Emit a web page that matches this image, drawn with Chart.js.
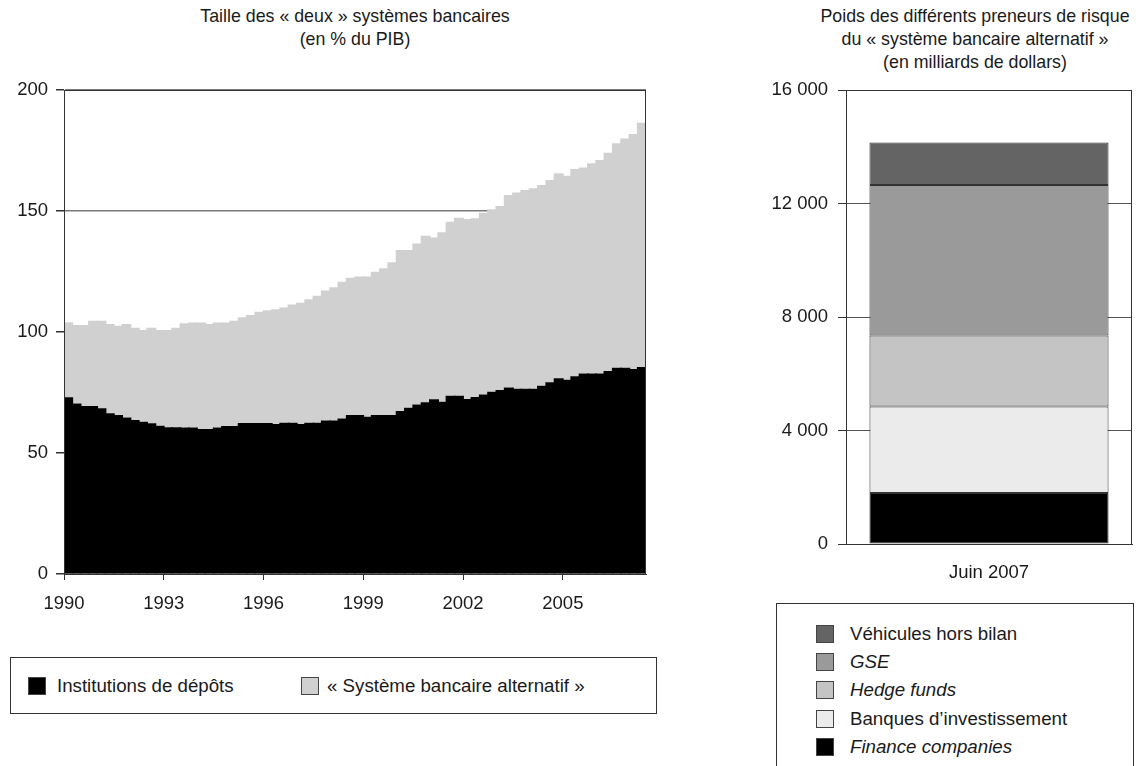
<!DOCTYPE html>
<html lang="fr">
<head>
<meta charset="utf-8">
<title>Système bancaire alternatif</title>
<script src="https://cdn.jsdelivr.net/npm/chart.js@4.4.1/dist/chart.umd.min.js"></script>
<style>
  html, body { margin: 0; padding: 0; background: #fff; }
  body { width: 1147px; height: 766px; position: relative; overflow: hidden;
         font-family: "Liberation Sans", Arial, Helvetica, sans-serif; color: #1a1a1a; }
  .title { position: absolute; width: 460px; text-align: center; font-size: 17.8px; line-height: 23px; }
  canvas { position: absolute; }
  .legend { position: absolute; border: 1px solid #333; box-sizing: border-box; font-size: 18.7px; }
  .item { position: absolute; display: flex; align-items: center; white-space: nowrap; height: 18px; }
  .sw { width: 18px; height: 18px; box-sizing: border-box; border: 1px solid #444; flex: none; }
  .it { font-style: italic; }
</style>
</head>
<body>

<div class="title" style="left:125px; top:5px;">Taille des « deux » systèmes bancaires<br>(en % du PIB)</div>
<div class="title" style="left:745px; top:5px;">Poids des différents preneurs de risque<br>du « système bancaire alternatif »<br>(en milliards de dollars)</div>

<canvas id="taille" width="660" height="630" style="left:0; top:0; width:660px; height:630px;"></canvas>
<canvas id="poids" width="447" height="600" style="left:700px; top:0; width:447px; height:600px;"></canvas>

<div class="legend" style="left:10px; top:657px; width:647px; height:57px;">
  <div class="item" style="left:17px; top:19px;"><span class="sw" style="background:#000; margin-right:11px;"></span>Institutions de dépôts</div>
  <div class="item" style="left:290px; top:19px;"><span class="sw" style="background:#d0d0d0; margin-right:8px;"></span>« Système bancaire alternatif »</div>
</div>

<div class="legend" style="left:776px; top:603px; width:358px; height:180px;">
  <div class="item" style="left:39px; top:21px;"><span class="sw" style="background:#646464; margin-right:16px;"></span>Véhicules hors bilan</div>
  <div class="item" style="left:39px; top:49px;"><span class="sw" style="background:#9a9a9a; margin-right:16px;"></span><span class="it">GSE</span></div>
  <div class="item" style="left:39px; top:77px;"><span class="sw" style="background:#c4c4c4; margin-right:16px;"></span><span class="it">Hedge funds</span></div>
  <div class="item" style="left:39px; top:106px;"><span class="sw" style="background:#ebebeb; margin-right:16px;"></span>Banques d’investissement</div>
  <div class="item" style="left:39px; top:134px;"><span class="sw" style="background:#000; margin-right:16px;"></span><span class="it">Finance companies</span></div>
</div>

<script>
// ---- Taille des deux systèmes bancaires, en % du PIB (trimestriel, 1990 T1 – 2007 T2)
const firstYear = 1990;
const quarters = [];
for (let y = 1990; y <= 2007; y++) {
  for (let q = 1; q <= 4; q++) {
    if (y === 2007 && q > 2) break;
    quarters.push(y + ' T' + q);
  }
}

const institutionsDepots = [
  73.0, 70.5, 69.4, 69.4, 68.5, 66.4, 65.7, 64.7, 63.6, 62.9,
  62.3, 61.3, 60.6, 60.6, 60.5, 60.5, 59.9, 59.9, 60.5, 61.2,
  61.2, 62.4, 62.4, 62.4, 62.4, 62.0, 62.5, 62.5, 62.0, 62.5,
  62.5, 63.4, 63.4, 64.3, 65.7, 65.7, 65.0, 65.7, 65.7, 65.7,
  67.4, 68.7, 70.0, 71.0, 72.2, 71.2, 73.7, 73.7, 72.3, 73.1,
  74.2, 75.3, 76.0, 77.1, 76.6, 76.6, 76.6, 77.8, 79.2, 80.9,
  80.3, 81.7, 82.9, 82.9, 82.9, 83.9, 85.2, 85.2, 84.7, 85.5
];

const systemeAlternatif = [
  31.0, 32.4, 33.5, 35.3, 36.2, 36.9, 36.9, 38.6, 38.2, 37.9,
  39.5, 39.5, 40.2, 41.2, 43.1, 43.4, 44.0, 43.4, 43.4, 42.7,
  43.5, 43.7, 44.6, 46.0, 46.6, 47.4, 47.6, 48.9, 50.1, 51.0,
  52.5, 53.7, 55.1, 56.5, 56.7, 57.2, 57.9, 59.2, 60.6, 63.1,
  66.5, 65.2, 66.6, 68.8, 66.9, 70.0, 71.9, 73.5, 74.4, 73.9,
  75.1, 75.4, 76.1, 79.5, 81.0, 82.1, 82.8, 82.9, 83.6, 84.7,
  84.3, 85.7, 85.1, 86.8, 88.2, 90.2, 92.8, 94.8, 97.1, 101.0
];

const tailleTicks = [0, 50, 100, 150, 200];
const anneeTicks = [1990, 1993, 1996, 1999, 2002, 2005];

// ---- Poids des preneurs de risque, en milliards de dollars
const periode = ['Juin 2007'];
const financeCompanies = [1800];
const banquesInvestissement = [3050];
const hedgeFunds = [2500];
const gse = [5300];
const vehiculesHorsBilan = [1500];
const poidsTicks = [0, 4000, 8000, 12000, 16000];

// ---------------------------------------------------------------
const FONT = '"Liberation Sans", Arial, Helvetica, sans-serif';
const INK = '#1a1a1a';
const TICK_FONT = { size: 18.5 };
Chart.defaults.font.family = FONT;
Chart.defaults.color = INK;

// centre of each quarter on a decimal-year axis
const quarterCentre = i => firstYear + i / 4 + 0.125;

// plot-area frame drawn above the bars
const framePlugin = {
  id: 'frame',
  afterDatasetsDraw(chart) {
    const { ctx, chartArea: a } = chart;
    ctx.save();
    ctx.strokeStyle = '#333';
    ctx.lineWidth = 1;
    ctx.strokeRect(Math.round(a.left) + 0.5, Math.round(a.top) + 0.5,
                   Math.round(a.right) - Math.round(a.left) - 1,
                   Math.round(a.bottom) - Math.round(a.top));
    ctx.restore();
  }
};

const withSpaces = v => String(v).replace(/\B(?=(\d{3})+(?!\d))/g, ' ');

new Chart(document.getElementById('taille'), {
  type: 'bar',
  data: {
    datasets: [
      {
        label: 'Institutions de dépôts',
        data: institutionsDepots.map((v, i) => ({ x: quarterCentre(i), y: v })),
        backgroundColor: '#000',
        borderWidth: 0
      },
      {
        label: '« Système bancaire alternatif »',
        data: systemeAlternatif.map((v, i) => ({ x: quarterCentre(i), y: v })),
        backgroundColor: '#d0d0d0',
        borderWidth: 0
      }
    ]
  },
  options: {
    responsive: false,
    animation: false,
    devicePixelRatio: 1,
    categoryPercentage: 1,
    // slight overlap so neighbouring quarters fuse into one solid area
    barPercentage: 1.2,
    layout: { padding: { top: 90, right: 14, left: 0, bottom: 0 } },
    plugins: { legend: { display: false }, tooltip: { enabled: false } },
    scales: {
      x: {
        type: 'linear',
        stacked: true,
        min: firstYear,
        max: firstYear + quarters.length / 4,
        offset: false,
        afterBuildTicks: s => { s.ticks = anneeTicks.map(v => ({ value: v })); },
        ticks: { autoSkip: false, maxRotation: 0, padding: 13, color: INK,
                 font: TICK_FONT, callback: v => String(v) },
        grid: { drawOnChartArea: false, offset: false, tickLength: 6, tickColor: '#333' },
        border: { display: true, color: '#333' },
        afterFit: s => { s.height = 56; }
      },
      y: {
        stacked: true,
        min: 0,
        max: 200,
        afterBuildTicks: s => { s.ticks = tailleTicks.map(v => ({ value: v })); },
        ticks: { padding: 8, color: INK, font: TICK_FONT },
        grid: { color: '#7a7a7a', lineWidth: 1.5, tickLength: 8, tickColor: '#333' },
        border: { display: true, color: '#333' },
        afterFit: s => { s.width = 64; }
      }
    }
  },
  plugins: [framePlugin]
});

new Chart(document.getElementById('poids'), {
  type: 'bar',
  data: {
    labels: periode,
    datasets: [
      { label: 'Finance companies', data: financeCompanies, backgroundColor: '#000' },
      { label: 'Banques d’investissement', data: banquesInvestissement, backgroundColor: '#ebebeb' },
      { label: 'Hedge funds', data: hedgeFunds, backgroundColor: '#c4c4c4' },
      { label: 'GSE', data: gse, backgroundColor: '#9a9a9a' },
      { label: 'Véhicules hors bilan', data: vehiculesHorsBilan, backgroundColor: '#646464' }
    ].map(d => Object.assign(d, { borderColor: '#333', borderWidth: 1, borderSkipped: false }))
  },
  options: {
    responsive: false,
    animation: false,
    devicePixelRatio: 1,
    categoryPercentage: 1,
    barPercentage: 0.836,
    layout: { padding: { top: 90, right: 15, left: 0, bottom: 0 } },
    plugins: { legend: { display: false }, tooltip: { enabled: false } },
    scales: {
      x: {
        stacked: true,
        grid: { display: false },
        border: { display: true, color: '#333' },
        ticks: { padding: 10, color: INK, font: TICK_FONT },
        afterFit: s => { s.height = 56; }
      },
      y: {
        stacked: true,
        min: 0,
        max: 16000,
        afterBuildTicks: s => { s.ticks = poidsTicks.map(v => ({ value: v })); },
        ticks: { padding: 10, color: INK, font: TICK_FONT, callback: v => withSpaces(v) },
        grid: { color: '#555', lineWidth: 1, tickLength: 8, tickColor: '#333' },
        border: { display: true, color: '#333' },
        afterFit: s => { s.width = 146; }
      }
    }
  },
  plugins: [framePlugin]
});
</script>
</body>
</html>
